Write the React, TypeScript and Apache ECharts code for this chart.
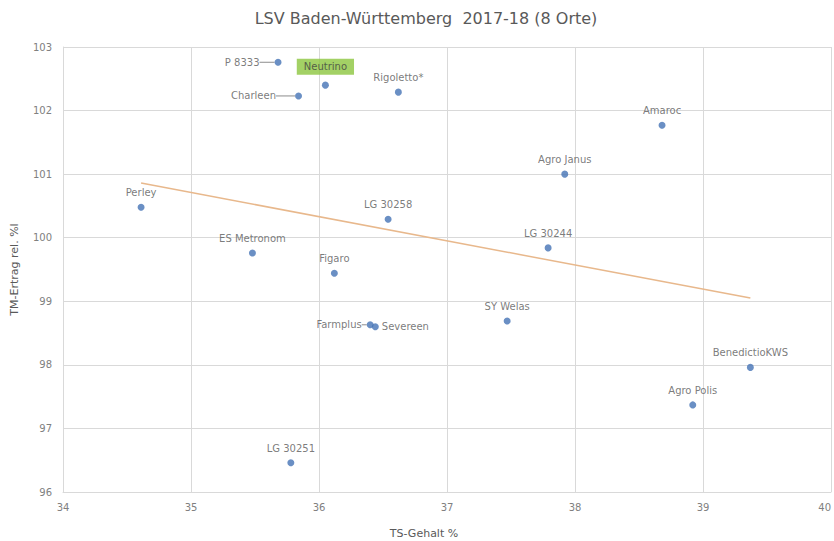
import React, { useEffect, useRef } from "react";
import * as echarts from "echarts";

const names = [
  "P 8333", "Neutrino", "Charleen", "Rigoletto*", "Amaroc", "Agro Janus", "Perley",
  "LG 30258", "LG 30244", "ES Metronom", "Figaro", "Farmplus", "Severeen",
  "SY Welas", "BenedictioKWS", "Agro Polis", "LG 30251",
];
const tsGehalt = [
  35.68, 36.05, 35.84, 36.62, 38.68, 37.92, 34.61,
  36.54, 37.79, 35.48, 36.12, 36.40, 36.44,
  37.47, 39.37, 38.92, 35.78,
];
const tmErtrag = [
  102.76, 102.40, 102.23, 102.29, 101.77, 101.00, 100.48,
  100.29, 99.84, 99.76, 99.44, 98.63, 98.60,
  98.69, 97.96, 97.37, 96.46,
];
const trendX = [34.61, 39.37];
const trendY = [100.86, 99.05];

const TEXT = "#595959";
const FONT = "'DejaVu Sans', 'Liberation Sans', sans-serif";

function labelFor(name: string): any {
  const base = { show: true, formatter: name, color: TEXT, fontSize: 10, fontFamily: FONT };
  if (name === "P 8333" || name === "Charleen" || name === "Farmplus")
    return { ...base, position: "left", distance: 2 };
  if (name === "Severeen") return { ...base, position: "right", distance: 3 };
  if (name === "Neutrino")
    return { ...base, position: "top", distance: 7, backgroundColor: "#8CC63F", padding: [3, 7], color: "#404040" };
  return { ...base, position: "top", distance: 6 };
}

const shiftOf: Record<string, number> = { "P 8333": -13, Charleen: -17, Farmplus: -3 };

export default function App() {
  const ref = useRef<HTMLDivElement>(null);
  useEffect(() => {
    document.body.style.margin = "0";
    const chart = echarts.init(ref.current!, null, { renderer: "svg" });
    const data = names.map((n, i) => ({
      name: n,
      value: [tsGehalt[i], tmErtrag[i]],
      label: labelFor(n),
      labelLine: shiftOf[n] != null
        ? { show: true, length2: 0, lineStyle: { color: "#8c8c8c", width: 1 } }
        : { show: false },
    }));
    chart.setOption({
      animation: false,
      backgroundColor: "#ffffff",
      title: [
        {
          text: "LSV Baden-Württemberg  2017-18 (8 Orte)",
          left: 421, top: 5, textAlign: "center",
          textStyle: { color: TEXT, fontSize: 16, fontWeight: "normal", fontFamily: FONT },
        },
        {
          text: "TS-Gehalt %",
          left: 419, top: 523, textAlign: "center",
          textStyle: { color: TEXT, fontSize: 11, fontWeight: "normal", fontFamily: FONT },
        },
      ],
      grid: { left: 63, right: 3, top: 47, bottom: 49, containLabel: false, outerBoundsMode: "none" },
      xAxis: {
        type: "value", min: 34, max: 40, interval: 1,
        axisLine: { show: true, lineStyle: { color: "#d9d9d9" } },
        axisTick: { show: false },
        axisLabel: { color: "#808080", fontSize: 10, fontFamily: FONT, margin: 10, alignMaxLabel: "right" },
        splitLine: { show: true, lineStyle: { color: "#d9d9d9" } },
      },
      yAxis: {
        type: "value", min: 96, max: 103, interval: 1,
        name: "TM-Ertrag rel. %l", nameLocation: "middle", nameGap: 43, nameRotate: 90,
        nameTextStyle: { color: TEXT, fontSize: 11, fontFamily: FONT },
        axisLine: { show: true, lineStyle: { color: "#d9d9d9" } },
        axisTick: { show: false },
        axisLabel: { color: "#808080", fontSize: 10, fontFamily: FONT, margin: 11 },
        splitLine: { show: true, lineStyle: { color: "#d9d9d9" } },
      },
      series: [
        {
          type: "line",
          data: trendX.map((x, i) => [x, trendY[i]]),
          symbol: "none",
          lineStyle: { color: "#E8B88C", width: 1.5 },
          silent: true,
          z: 1,
        },
        {
          type: "scatter",
          data,
          symbolSize: 7,
          itemStyle: { color: "#4573B5" },
          labelLayout: (p: any) => {
            const s = shiftOf[p.text];
            return s != null ? { dx: s } : {};
          },
          z: 3,
        },
      ],
    });
    return () => chart.dispose();
  }, []);
  return <div ref={ref} style={{ width: 834, height: 541 }} />;
}
